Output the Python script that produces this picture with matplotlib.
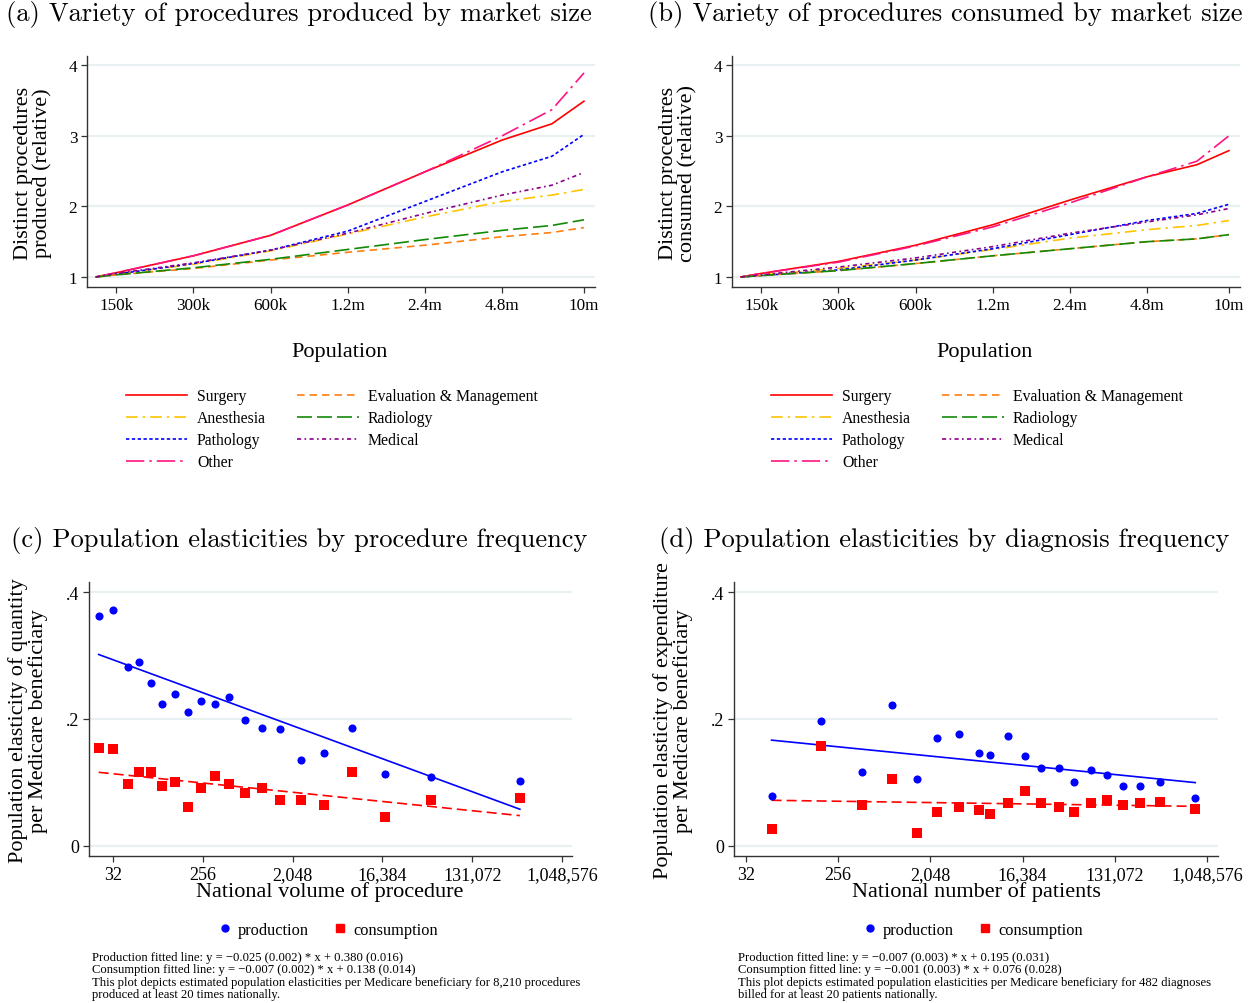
import numpy as np
import matplotlib
matplotlib.use("Agg")
import matplotlib.pyplot as plt
from matplotlib.lines import Line2D
from matplotlib.ticker import FixedLocator, NullLocator

plt.rcParams['font.family'] = ['Liberation Serif', 'DejaVu Serif']

# ---- data: panels (a) and (b), relative number of distinct procedures ----
population = [125e3, 150e3, 300e3, 600e3, 1.2e6, 2.4e6, 4.8e6, 7.5e6, 10e6]

produced = {
    'Surgery':               [1, 1.06, 1.30, 1.59, 2.02, 2.49, 2.94, 3.17, 3.49],
    'Anesthesia':            [1, 1.04, 1.18, 1.37, 1.61, 1.85, 2.07, 2.16, 2.24],
    'Pathology':             [1, 1.04, 1.19, 1.38, 1.65, 2.07, 2.49, 2.71, 3.02],
    'Other':                 [1, 1.06, 1.30, 1.59, 2.02, 2.49, 3.00, 3.37, 3.89],
    'Evaluation & Management': [1, 1.03, 1.12, 1.24, 1.35, 1.45, 1.57, 1.63, 1.70],
    'Radiology':             [1, 1.03, 1.13, 1.25, 1.39, 1.53, 1.66, 1.73, 1.81],
    'Medical':               [1, 1.05, 1.20, 1.38, 1.62, 1.90, 2.16, 2.30, 2.48],
}
consumed = {
    'Surgery':               [1, 1.05, 1.22, 1.45, 1.74, 2.09, 2.42, 2.59, 2.79],
    'Anesthesia':            [1, 1.03, 1.12, 1.24, 1.39, 1.55, 1.67, 1.73, 1.80],
    'Pathology':             [1, 1.02, 1.10, 1.24, 1.40, 1.60, 1.80, 1.90, 2.03],
    'Other':                 [1, 1.05, 1.21, 1.44, 1.71, 2.05, 2.42, 2.64, 3.00],
    'Evaluation & Management': [1, 1.02, 1.09, 1.19, 1.30, 1.40, 1.50, 1.54, 1.60],
    'Radiology':             [1, 1.02, 1.09, 1.19, 1.30, 1.40, 1.50, 1.54, 1.60],
    'Medical':               [1, 1.03, 1.14, 1.27, 1.43, 1.62, 1.78, 1.88, 1.97],
}
pop_ticks = [150e3, 300e3, 600e3, 1.2e6, 2.4e6, 4.8e6, 10e6]
pop_labels = ['150k', '300k', '600k', '1.2m', '2.4m', '4.8m', '10m']

# ---- data: panel (c), elasticities by procedure frequency ----
volume_c = [23, 32, 45, 59, 77, 100, 135, 182, 247, 340, 468, 680, 1017,
            1541, 2487, 4272, 8021, 17210, 50010, 394600]
prod_c = [0.362, 0.371, 0.282, 0.289, 0.257, 0.224, 0.239, 0.211, 0.229, 0.224,
          0.234, 0.199, 0.186, 0.184, 0.136, 0.147, 0.186, 0.114, 0.109, 0.102]
cons_c = [0.154, 0.152, 0.098, 0.116, 0.117, 0.094, 0.101, 0.061, 0.091, 0.110,
          0.097, 0.084, 0.092, 0.072, 0.072, 0.065, 0.116, 0.045, 0.073, 0.076]
fit_c = {'prod': (-0.025, 0.380), 'cons': (-0.007, 0.138)}

# ---- data: panel (d), elasticities by diagnosis frequency ----
patients_d = [57, 175, 437, 855, 1499, 2402, 3902, 6123, 7913, 11829, 17210,
              25003, 36863, 52134, 75891, 110952, 159121, 231342, 360710, 805830]
prod_d = [0.078, 0.197, 0.117, 0.222, 0.105, 0.170, 0.177, 0.146, 0.144, 0.173,
          0.142, 0.123, 0.123, 0.101, 0.120, 0.112, 0.095, 0.095, 0.100, 0.076]
cons_d = [0.027, 0.158, 0.064, 0.105, 0.020, 0.054, 0.062, 0.057, 0.051, 0.067,
          0.087, 0.067, 0.061, 0.053, 0.067, 0.073, 0.065, 0.067, 0.070, 0.059]
fit_d = {'prod': (-0.007, 0.195), 'cons': (-0.001, 0.076)}

freq_ticks = [32, 256, 2048, 16384, 131072, 1048576]

notes_c = ("Production fitted line: y = \u22120.025 (0.002) * x + 0.380 (0.016)\n"
           "Consumption fitted line: y = \u22120.007 (0.002) * x + 0.138 (0.014)\n"
           "This plot depicts estimated population elasticities per Medicare beneficiary for 8,210 procedures\n"
           "produced at least 20 times nationally.")
notes_d = ("Production fitted line: y = \u22120.007 (0.003) * x + 0.195 (0.031)\n"
           "Consumption fitted line: y = \u22120.001 (0.003) * x + 0.076 (0.028)\n"
           "This plot depicts estimated population elasticities per Medicare beneficiary for 482 diagnoses\n"
           "billed for at least 20 patients nationally.")

styles = {
    'Surgery':                 dict(color='#FF0000', ls='-'),
    'Anesthesia':              dict(color='#FFC400', ls=(0, (7, 3, 1.5, 3))),
    'Pathology':               dict(color='#0000FF', ls=(0, (2, 1.5))),
    'Other':                   dict(color='#FF1480', ls=(0, (11, 3, 1.5, 3))),
    'Evaluation & Management': dict(color='#FF7F0E', ls=(0, (4.5, 3))),
    'Radiology':               dict(color='#138A07', ls=(0, (9, 3))),
    'Medical':                 dict(color='#8B008B', ls=(0, (2.5, 2, 1, 2))),
}
legend_order = ['Surgery', 'Anesthesia', 'Pathology', 'Other',
                'Evaluation & Management', 'Radiology', 'Medical']

W, H = 1252, 1004
fig = plt.figure(figsize=(W / 100, H / 100), dpi=100)
GRID = '#E8F0F1'
SPINE = '#333333'


def px_axes(l, t, r, b):
    return fig.add_axes([l / W, 1 - b / H, (r - l) / W, (b - t) / H])


def style_axes(ax, labelsize):
    for s in ['top', 'right']:
        ax.spines[s].set_visible(False)
    for s in ['left', 'bottom']:
        ax.spines[s].set_color(SPINE)
        ax.spines[s].set_linewidth(1.0)
    ax.tick_params(direction='out', length=4, width=0.9, color=SPINE,
                   labelsize=labelsize, pad=3)
    ax.yaxis.grid(True, color=GRID, lw=1.6)
    ax.set_axisbelow(True)


def variety_panel(ax, data, xmax):
    style_axes(ax, 12.3)
    for name in legend_order:
        ax.plot(population, data[name], lw=1.2, **styles[name])
    ax.set_xscale('log')
    ax.set_xlim(115.4e3, xmax)
    ax.set_ylim(0.858, 4.13)
    ax.xaxis.set_major_locator(FixedLocator(pop_ticks))
    ax.xaxis.set_minor_locator(NullLocator())
    ax.set_xticklabels(pop_labels)
    ax.set_yticks([1, 2, 3, 4])
    ax.set_yticklabels(['1', '2', '3', '4'])


def elasticity_panel(ax, x, prod, cons, fit, xlo, xhi):
    style_axes(ax, 13)
    ax.set_xscale('log', base=2)
    ax.scatter(x, prod, s=34, marker='o', color='#0000FF', lw=0, zorder=3)
    ax.scatter(x, cons, s=50, marker='s', color='#FF0000', lw=0, zorder=3)
    xl = np.array([x[0], x[-1]], dtype=float)
    a, b = fit['prod']
    ax.plot(xl, b + a * np.log(xl), color='#0000FF', lw=1.2, zorder=2)
    a, b = fit['cons']
    ax.plot(xl, b + a * np.log(xl), color='#FF0000', lw=1.2,
            ls=(0, (6, 3)), zorder=2)
    ax.set_xlim(2 ** xlo, 2 ** xhi)
    ax.set_ylim(-0.0158, 0.4158)
    ax.xaxis.set_major_locator(FixedLocator(freq_ticks))
    ax.xaxis.set_minor_locator(NullLocator())
    ax.set_xticklabels([f'{t:,}' for t in freq_ticks])
    ax.set_yticks([0, 0.2, 0.4])
    ax.set_yticklabels(['0', '.2', '.4'])


# panel frames in pixel coordinates
ax_a = px_axes(87, 57, 595, 288)
ax_b = px_axes(732, 57, 1240, 288)
ax_c = px_axes(89, 583, 572, 857)
ax_d = px_axes(734, 583, 1218, 857)

variety_panel(ax_a, produced, 11.04e6)
variety_panel(ax_b, consumed, 11.04e6)
elasticity_panel(ax_c, volume_c, prod_c, cons_c, fit_c, 4.2, 20.33)
elasticity_panel(ax_d, patients_d, prod_d, cons_d, fit_d, 4.61, 20.36)


def ftext(x, y, s, **kw):
    return fig.text(x / W, 1 - y / H, s, **kw)


# titles
tfont = dict(family='cmr10', fontsize=19.1, ha='center', va='center')
ftext(299, 15, '(a) Variety of procedures produced by market size', **tfont)
ftext(945, 15, '(b) Variety of procedures consumed by market size', **tfont)
ftext(299, 541, '(c) Population elasticities by procedure frequency', **tfont)
ftext(944, 541, '(d) Population elasticities by diagnosis frequency', **tfont)

# axis titles
lab = dict(fontsize=16, ha='center', va='center')
ftext(340, 352, 'Population', **lab)
ftext(985, 352, 'Population', **lab)
ftext(330, 892, 'National volume of procedure', **lab)
ftext(976, 892, 'National number of patients', **lab)
ftext(33, 173, 'Distinct procedures\nproduced (relative)', rotation=90,
      linespacing=1.0, **lab)
ftext(678, 173, 'Distinct procedures\nconsumed (relative)', rotation=90,
      linespacing=1.0, **lab)
ftext(28, 721, 'Population elasticity of quantity\nper Medicare beneficiary',
      rotation=90, linespacing=1.0, **lab)
ftext(673, 721, 'Population elasticity of expenditure\nper Medicare beneficiary',
      rotation=90, linespacing=1.0, **lab)

# legends for (a) and (b)
handles = [Line2D([], [], lw=1.2, **styles[n]) for n in legend_order]
for x0 in (120, 765):
    fig.legend(handles, legend_order, ncol=2, frameon=False, fontsize=11.3,
               loc='upper left', bbox_to_anchor=(x0 / W, 1 - 383 / H),
               handlelength=3.9, handletextpad=0.6, columnspacing=2.0,
               labelspacing=0.38, borderaxespad=0)

# legends for (c) and (d)
sc_handles = [Line2D([], [], marker='o', ls='', color='#0000FF', ms=5),
              Line2D([], [], marker='s', ls='', color='#FF0000', ms=6)]
for xc in (327, 972):
    fig.legend(sc_handles, ['production', 'consumption'], ncol=2,
               frameon=False, fontsize=11.8, loc='center',
               bbox_to_anchor=(xc / W, 1 - 931 / H), handlelength=1.0,
               handletextpad=0.3, columnspacing=1.4, borderaxespad=0)

# notes
ftext(92, 952, notes_c, fontsize=9.1, ha='left', va='top', linespacing=1.05)
ftext(738, 952, notes_d, fontsize=9.1, ha='left', va='top', linespacing=1.05)

fig.savefig('out.png', dpi=100)
